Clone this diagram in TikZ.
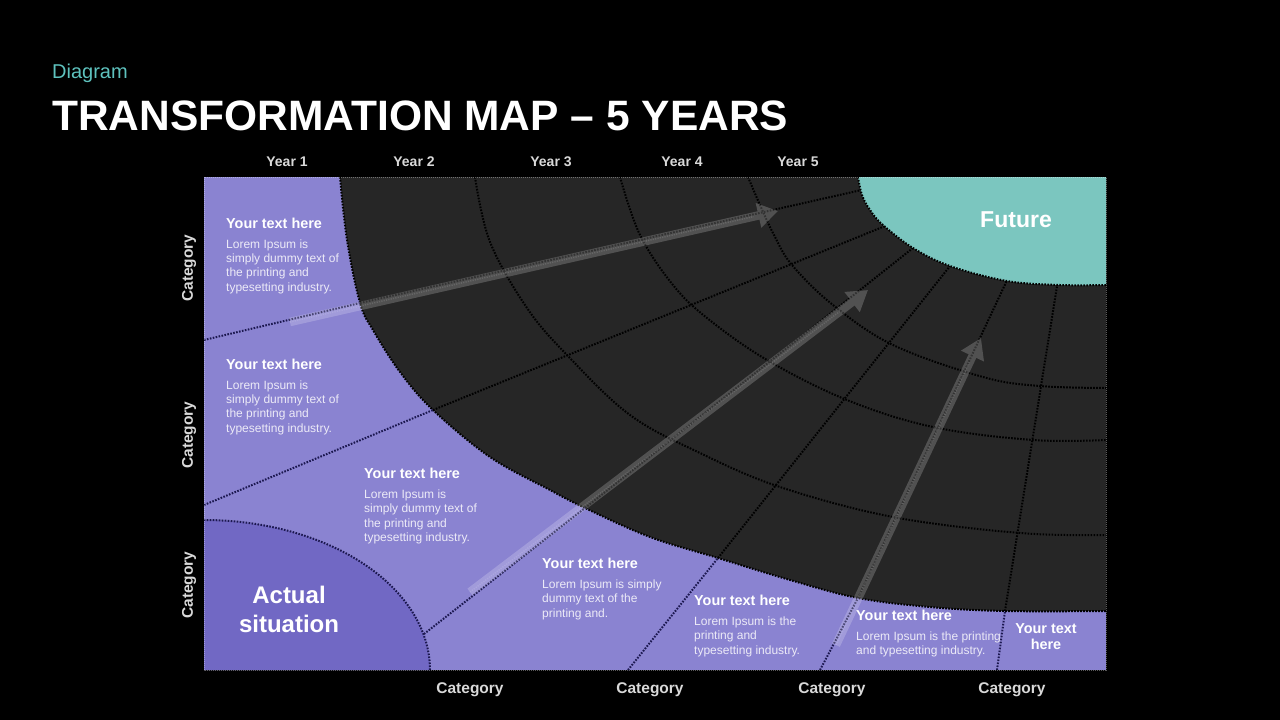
\documentclass[tikz,border=0pt]{standalone}
\usepackage{fontspec}
\setmainfont{Liberation Sans}
\usetikzlibrary{arrows.meta,calc}
\definecolor{purp}{HTML}{8A83D1}
\definecolor{purpdark}{HTML}{7168C4}
\definecolor{darkgrid}{HTML}{262626}
\definecolor{futurec}{HTML}{7BC6BF}
\definecolor{tealtxt}{HTML}{5EC2BE}
\definecolor{navy}{HTML}{1C1850}
\definecolor{lightg}{HTML}{D9D9D9}
\definecolor{bodyc}{HTML}{ECEAF7}
\begin{document}
\begin{tikzpicture}[x=1pt,y=-1pt,
  gridline/.style={line width=2pt, dash pattern=on 1.6pt off 1.4pt, draw=black},
  sepline/.style={line width=2pt, dash pattern=on 1.6pt off 1.4pt, draw=navy},
  bigarrow/.style={line width=8.5pt, draw=white, -{Triangle[length=20pt,width=24pt]}},
  arrowcore/.style={line width=1.5pt, draw=white, dash pattern=on 1.2pt off 1.2pt, opacity=0.12},
  head/.style={anchor=base west, inner sep=0pt, text=white, font=\fontsize{14.4}{16}\selectfont\bfseries},
  body/.style={anchor=north west, inner sep=0pt, align=left, text=bodyc, font=\fontsize{12}{14.3}\selectfont},
  yearlab/.style={anchor=base, inner sep=0pt, text=lightg, font=\fontsize{14}{16}\selectfont\bfseries},
  catlab/.style={inner sep=0pt, text=lightg, font=\fontsize{15.5}{18}\selectfont\bfseries}
]
\useasboundingbox (0,0) rectangle (1280,720);
\fill[black] (0,0) rectangle (1280,720);

% main panel
\fill[purp] (204,177) rectangle (1106,670);
% actual situation
\fill[purpdark] plot[domain=0:90, samples=60] ({204+226*cos(\x)},{670-150*sin(\x)}) -- (204,670) -- cycle;
% dark region
\fill[darkgrid] plot[smooth, tension=0.6] coordinates {(340,177) (347,240) (360,303) (373,330) (400,372) (433,410) (490,457) (550,490) (585,508) (650,537) (718,558) (790,580) (858,598) (930,607) (1005,611) (1106,611)} -- (1106,177) -- cycle;

% grid arcs
\draw[gridline] plot[smooth, tension=0.6] coordinates {(475,177) (490,242) (527,308) (567,355) (630,415) (700,453) (780,487) (893,517) (1020,533) (1106,535)};
\draw[gridline] plot[smooth, tension=0.6] coordinates {(620,177) (640,235) (673,285) (707,318) (767,360) (847,400) (933,427) (1033,440) (1106,440)};
\draw[gridline] plot[smooth, tension=0.6] coordinates {(748,177) (760,205) (774,235) (792,265) (833,305) (893,345) (983,377) (1040,386) (1106,388)};

% radial lines
\coordinate (r1a) at (360,303); \coordinate (r1b) at (866,189);
\coordinate (r2a) at (433,410); \coordinate (r2b) at (890,224);
\coordinate (r3a) at (585,508); \coordinate (r3b) at (918,244);
\coordinate (r4a) at (718,558); \coordinate (r4b) at (954,261);
\coordinate (r5a) at (858,598); \coordinate (r5b) at (1009,276);
\coordinate (r6a) at (1005,611); \coordinate (r6b) at (1058,280);
\draw[gridline] (r1a) -- (r1b);
\draw[gridline] (r2a) -- (r2b);
\draw[gridline] (r3a) -- (r3b);
\draw[gridline] (r4a) -- (r4b);
\draw[gridline] (r5a) -- (r5b);
\draw[gridline] (r6a) -- (r6b);

% future
\fill[futurec] plot[smooth, tension=0.6] coordinates {(858,177) (862,195) (870,210) (883,225) (913,248) (950,266) (1007,281) (1060,285) (1106,285)} -- (1106,177) -- cycle;
\draw[gridline] plot[smooth, tension=0.6] coordinates {(858,177) (862,195) (870,210) (883,225) (913,248) (950,266) (1007,281) (1060,285) (1106,285)};

% dark boundary
\draw[gridline] plot[smooth, tension=0.6] coordinates {(340,177) (347,240) (360,303) (373,330) (400,372) (433,410) (490,457) (550,490) (585,508) (650,537) (718,558) (790,580) (858,598) (930,607) (1005,611) (1106,611)};

% purple separators
\coordinate (s1a) at (204,340);
\coordinate (s2a) at (204,505);
\coordinate (s3a) at (424,634);
\coordinate (s4a) at (628,670);
\coordinate (s5a) at (820,670);
\coordinate (s6a) at (997,670);
\draw[sepline] (s1a) -- (r1a);
\draw[sepline] (s2a) -- (r2a);
\draw[sepline] (s3a) -- (r3a);
\draw[sepline] (s4a) -- (r4a);
\draw[sepline] (s5a) -- (r5a);
\draw[sepline] (s6a) -- (r6a);
\draw[sepline] plot[domain=0:90, samples=60] ({204+226*cos(\x)},{670-150*sin(\x)});

% panel border
\draw[line width=1pt, dash pattern=on 1pt off 1pt, draw=white, opacity=0.35] (204,177) rectangle (1106,670);

% arrows
\coordinate (a1s) at (290,322); \coordinate (a1e) at (778,211);
\coordinate (a2s) at (470,592); \coordinate (a2e) at (868,290);
\coordinate (a3s) at (836,645); \coordinate (a3e) at (981,338);
\begin{scope}[transparency group, opacity=0.2]
\draw[bigarrow] (a1s) -- (a1e);
\end{scope}
\begin{scope}[transparency group, opacity=0.2]
\draw[bigarrow] (a2s) -- (a2e);
\end{scope}
\begin{scope}[transparency group, opacity=0.2]
\draw[bigarrow] (a3s) -- (a3e);
\end{scope}
\draw[arrowcore] (a1s) -- ($(a1s)!0.95!(a1e)$);
\draw[arrowcore] (a2s) -- ($(a2s)!0.93!(a2e)$);
\draw[arrowcore] (a3s) -- ($(a3s)!0.92!(a3e)$);

% title
\node[anchor=base west, inner sep=0pt, text=tealtxt, font=\fontsize{20}{24}\selectfont] (sub) at (52,78) {Diagram};
\node[anchor=base west, inner sep=0pt, text=white, font=\fontsize{42.5}{48}\selectfont\bfseries] (title) at (52,130) {TRANSFORMATION MAP -- 5 YEARS};

% years
\node[yearlab] (y1) at (287,166) {Year 1};
\node[yearlab] (y2) at (414,166) {Year 2};
\node[yearlab] (y3) at (551,166) {Year 3};
\node[yearlab] (y4) at (682,166) {Year 4};
\node[yearlab] (y5) at (798,166) {Year 5};

% bottom categories
\node[catlab, anchor=base] (c1) at (470,693) {Category};
\node[catlab, anchor=base] (c2) at (650,693) {Category};
\node[catlab, anchor=base] (c3) at (832,693) {Category};
\node[catlab, anchor=base] (c4) at (1012,693) {Category};
% left categories
\node[catlab, rotate=90] (l1) at (189,268) {Category};
\node[catlab, rotate=90] (l2) at (189,435) {Category};
\node[catlab, rotate=90] (l3) at (189,585) {Category};

% region labels
\node[inner sep=0pt, text=white, font=\fontsize{23}{26}\selectfont\bfseries] (future) at (1016,220) {Future};
\node[inner sep=0pt, text=white, align=center, font=\fontsize{24}{29}\selectfont\bfseries] (actual) at (289,609) {Actual\\situation};
\node[inner sep=0pt, text=white, align=center, font=\fontsize{14.4}{16}\selectfont\bfseries] (t7) at (1046,637) {Your text\\here};

% text blocks
\node[head] (h1) at (226,228) {Your text here};
\node[body] (b1) at (226,239.5) {Lorem Ipsum is\\simply dummy text of\\the printing and\\typesetting industry.};
\node[head] (h2) at (226,369) {Your text here};
\node[body] (b2) at (226,380.5) {Lorem Ipsum is\\simply dummy text of\\the printing and\\typesetting industry.};
\node[head] (h3) at (364,478) {Your text here};
\node[body] (b3) at (364,489.5) {Lorem Ipsum is\\simply dummy text of\\the printing and\\typesetting industry.};
\node[head] (h4) at (542,568) {Your text here};
\node[body] (b4) at (542,579.5) {Lorem Ipsum is simply\\dummy text of the\\printing and.};
\node[head] (h5) at (694,605) {Your text here};
\node[body] (b5) at (694,616.5) {Lorem Ipsum is the\\printing and\\typesetting industry.};
\node[head] (h6) at (856,620) {Your text here};
\node[body] (b6) at (856,631.5) {Lorem Ipsum is the printing\\and typesetting industry.};
\end{tikzpicture}
\end{document}
